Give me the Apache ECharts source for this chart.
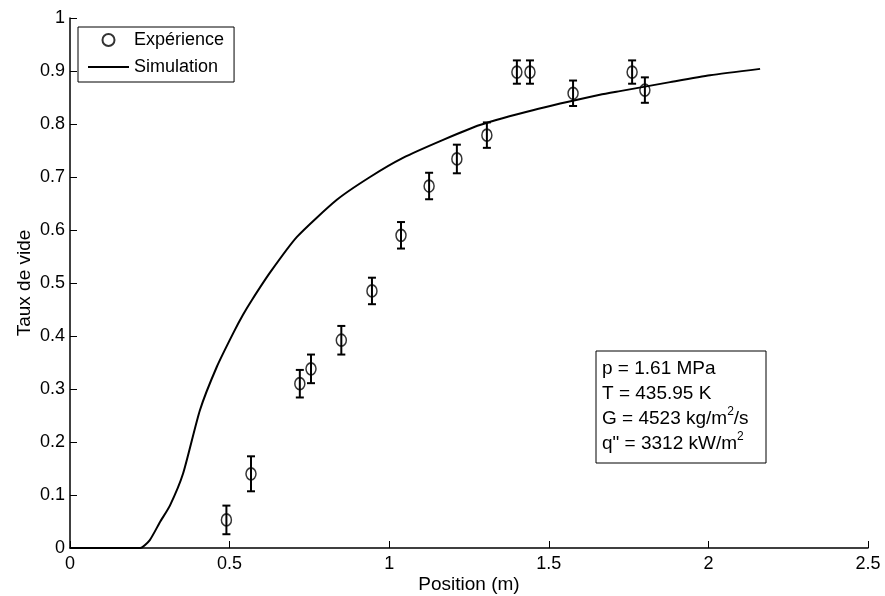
<!DOCTYPE html>
<html>
<head>
<meta charset="utf-8">
<script src="https://cdn.jsdelivr.net/npm/echarts@6/dist/echarts.min.js"></script>
<style>
  html, body { margin: 0; padding: 0; background: #fff; }
  #main { width: 885px; height: 596px; }
</style>
</head>
<body>
<div id="main"></div>
<script>
// mesures (Expérience)
const expX   = [0.49, 0.567, 0.72, 0.755, 0.85, 0.946, 1.037, 1.125, 1.212, 1.306, 1.40, 1.441, 1.576, 1.761, 1.801];
const expY   = [0.053, 0.14, 0.31, 0.338, 0.392, 0.485, 0.59, 0.683, 0.734, 0.779, 0.898, 0.898, 0.858, 0.898, 0.864];
const expErr = [0.027, 0.033, 0.026, 0.027, 0.027, 0.025, 0.025, 0.025, 0.027, 0.024, 0.022, 0.022, 0.024, 0.022, 0.024];

// courbe simulée
const simX = [0, 0.1, 0.22, 0.25, 0.282, 0.313, 0.354, 0.407, 0.46, 0.511, 0.542, 0.57, 0.627, 0.711, 0.836, 0.94, 1.043, 1.169, 1.284, 1.45, 1.66, 1.723, 1.88, 2.005, 2.162];
const simY = [0, 0, 0, 0.015, 0.049, 0.08, 0.14, 0.26, 0.342, 0.405, 0.44, 0.468, 0.52, 0.587, 0.657, 0.70, 0.736, 0.77, 0.798, 0.826, 0.855, 0.862, 0.879, 0.892, 0.904];

const xTicks = ['0', '0.5', '1', '1.5', '2', '2.5'];
const yTicks = ['0', '0.1', '0.2', '0.3', '0.4', '0.5', '0.6', '0.7', '0.8', '0.9', '1'];

const FONT = '"Liberation Sans", Arial, sans-serif';

const chart = echarts.init(document.getElementById('main'));

const expData = expX.map((x, i) => [x, expY[i]]);
const errData = expX.map((x, i) => [x, expY[i] - expErr[i], expY[i] + expErr[i]]);
const simData = simX.map((x, i) => [x, simY[i]]);

chart.setOption({
  animation: false,
  backgroundColor: '#fff',
  textStyle: { fontFamily: FONT },
  grid: { left: 70, right: 17, top: 18, bottom: 48, containLabel: false, outerBoundsMode: 'none' },
  legend: {
    left: 78, top: 27,
    orient: 'vertical',
    borderColor: '#000', borderWidth: 1, borderRadius: 0,
    padding: [3, 10, 5, 9],
    itemGap: 7,
    itemWidth: 41, itemHeight: 12,
    textStyle: { fontFamily: FONT, fontSize: 18, lineHeight: 20, color: '#000' },
    data: [
      { name: 'Expérience' },
      { name: 'Simulation', itemStyle: { opacity: 0 } }
    ]
  },
  xAxis: {
    type: 'value', min: 0, max: 2.5, interval: 0.5,
    name: 'Position (m)', nameLocation: 'middle', nameGap: 27,
    nameMoveOverlap: false,
    nameTextStyle: { fontFamily: FONT, fontSize: 19, color: '#000' },
    axisLine: { lineStyle: { color: '#000', width: 1.5 } },
    axisTick: { inside: true, length: 7, lineStyle: { color: '#000' } },
    axisLabel: { color: '#000', fontSize: 18, fontFamily: FONT, margin: 7,
                 formatter: v => xTicks[Math.round(v / 0.5)] },
    splitLine: { show: false }
  },
  yAxis: {
    type: 'value', min: 0, max: 1, interval: 0.1,
    name: 'Taux de vide', nameLocation: 'middle', nameGap: 36,
    nameMoveOverlap: false,
    nameTextStyle: { fontFamily: FONT, fontSize: 19, color: '#000' },
    axisLine: { show: true, lineStyle: { color: '#000', width: 1.5 } },
    axisTick: { show: true, inside: true, length: 7, lineStyle: { color: '#000' } },
    axisLabel: { color: '#000', fontSize: 18, fontFamily: FONT, margin: 5,
                 formatter: v => yTicks[Math.round(v * 10)] },
    splitLine: { show: false }
  },
  series: [
    {
      name: 'Simulation',
      type: 'line',
      data: simData,
      showSymbol: false,
      symbol: 'none',
      smooth: 0.2,
      lineStyle: { color: '#000', width: 2 },
      itemStyle: { color: '#000' },
      z: 2
    },
    {
      name: 'errbars',
      type: 'custom',
      data: errData,
      renderItem: (params, api) => {
        const x = api.value(0);
        const lo = api.coord([x, api.value(1)]);
        const hi = api.coord([x, api.value(2)]);
        const cw = 4;
        const style = { stroke: '#000', lineWidth: 2 };
        return {
          type: 'group',
          children: [
            { type: 'line', shape: { x1: lo[0], y1: lo[1], x2: hi[0], y2: hi[1] }, style },
            { type: 'line', shape: { x1: lo[0] - cw, y1: lo[1], x2: lo[0] + cw, y2: lo[1] }, style },
            { type: 'line', shape: { x1: hi[0] - cw, y1: hi[1], x2: hi[0] + cw, y2: hi[1] }, style }
          ]
        };
      },
      z: 3
    },
    {
      name: 'Expérience',
      type: 'scatter',
      data: expData,
      symbol: 'circle',
      symbolSize: [10, 12],
      itemStyle: { color: 'rgba(255,255,255,0)', borderColor: '#000', borderWidth: 1.6 },
      z: 4
    }
  ],
  graphic: [
    {
      type: 'rect',
      shape: { x: 596, y: 351, width: 170, height: 112 },
      style: { fill: '#fff', stroke: '#000', lineWidth: 1 },
      z: 10
    },
    {
      type: 'text',
      left: 602, top: 356,
      z: 11,
      style: {
        text: 'p = 1.61 MPa\nT = 435.95 K\nG = 4523 kg/m{sup|2}/s\nq" = 3312 kW/m{sup|2}',
        fontFamily: FONT, fontSize: 19, lineHeight: 25, fill: '#000',
        rich: { sup: { fontSize: 12, verticalAlign: 'top', lineHeight: 16, padding: [0, 0, 8, 0] } }
      }
    }
  ]
});
</script>
</body>
</html>
